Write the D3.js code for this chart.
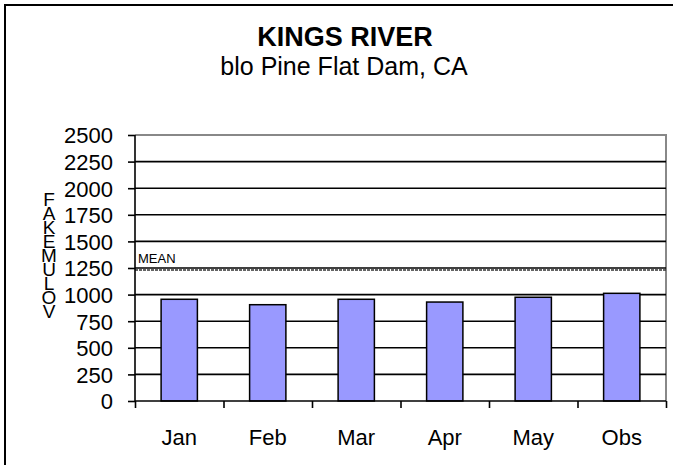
<!DOCTYPE html>
<html>
<head>
<meta charset="utf-8">
<script src="https://cdn.jsdelivr.net/npm/d3@7"></script>
<style>
html,body{margin:0;padding:0;background:#fff;}
svg{display:block;}
text{font-family:"Liberation Sans",Arial,sans-serif;fill:#000;}
</style>
</head>
<body>
<svg id="chart" width="673" height="465"></svg>
<script>
const categories = ["Jan","Feb","Mar","Apr","May","Obs"];
const values = [956, 905, 956, 930, 975, 1012];
const meanValue = 1231;
const yTicks = [0,250,500,750,1000,1250,1500,1750,2000,2250,2500];
const titleText = "KINGS RIVER";
const subtitleText = "blo Pine Flat Dam, CA";
const yAxisLetters = ["F","A","K","E","M","U","L","O","V"];

const svg = d3.select("#chart");
const plot = {left:135, right:666, top:135, bottom:401};

// outer border (extends past the image on right/bottom)
svg.append("rect").attr("x",5).attr("y",5).attr("width",700).attr("height",500)
  .attr("fill","none").attr("stroke","#000").attr("stroke-width",2);

const x = d3.scaleBand().domain(categories).range([plot.left, plot.right]).paddingInner(0.59).paddingOuter(0.295);
const xBound = d3.scaleLinear().domain([0, categories.length]).range([plot.left, plot.right]);
const y = d3.scaleLinear().domain([0,2500]).range([plot.bottom, plot.top]);

// plot border top/right (gray)
svg.append("path").attr("d",`M${plot.left},${plot.top}H${plot.right}V${plot.bottom}`)
  .attr("fill","none").attr("stroke","#888").attr("stroke-width",2);

// gridlines
svg.append("g").selectAll("line").data(yTicks.filter(t=>t>0 && t<2500)).join("line")
  .attr("x1",plot.left).attr("x2",plot.right)
  .attr("y1",d=>y(d)).attr("y2",d=>y(d))
  .attr("stroke","#000").attr("stroke-width",1.6);

// mean line
svg.append("line").attr("x1",plot.left).attr("x2",plot.right)
  .attr("y1",y(meanValue)).attr("y2",y(meanValue))
  .attr("stroke","#333").attr("stroke-width",1.5).attr("stroke-dasharray","3,1");
svg.append("text").attr("x",plot.left+3).attr("y",y(meanValue)-7)
  .attr("font-size",13).text("MEAN");

// bars
svg.append("g").selectAll("rect").data(values).join("rect")
  .attr("x",(d,i)=>x(categories[i])).attr("width",x.bandwidth())
  .attr("y",d=>y(d)).attr("height",d=>y(0)-y(d))
  .attr("fill","#9999FF").attr("stroke","#000").attr("stroke-width",1.5);

// y axis
const yAxis = d3.axisLeft(y).tickValues(yTicks).tickSize(7).tickPadding(15).tickFormat(d3.format("d"));
const gy = svg.append("g").attr("transform",`translate(${plot.left},0)`).call(yAxis);
gy.select(".domain").attr("stroke","#000").attr("stroke-width",1.6).attr("d",`M-0,${plot.top}V${plot.bottom}`);
gy.selectAll(".tick line").attr("stroke","#000").attr("stroke-width",1.6);
gy.selectAll(".tick text").attr("font-size",22).attr("fill","#000").attr("font-family",null).attr("dy","0.36em");

// x axis
const xAxis = d3.axisBottom(xBound).tickValues(d3.range(0, categories.length+1)).tickSize(7).tickFormat("");
const gx = svg.append("g").attr("transform",`translate(0,${plot.bottom})`).call(xAxis);
gx.select(".domain").attr("stroke","#000").attr("stroke-width",1.6).attr("d",`M${plot.left},0H${plot.right}`);
gx.selectAll(".tick line").attr("stroke","#000").attr("stroke-width",1.6);
svg.append("g").selectAll("text").data(categories).join("text")
  .attr("x",d=>x(d)+x.bandwidth()/2).attr("y",445)
  .attr("text-anchor","middle").attr("font-size",22).text(d=>d);

// titles
svg.append("text").attr("x",345).attr("y",46).attr("text-anchor","middle")
  .attr("font-size",27).attr("font-weight","bold").text(titleText);
svg.append("text").attr("x",344).attr("y",75).attr("text-anchor","middle")
  .attr("font-size",25).text(subtitleText);

// vertical stacked y-axis title
svg.append("g").selectAll("text").data(yAxisLetters).join("text")
  .attr("x",49).attr("y",(d,i)=>206+i*14).attr("text-anchor","middle")
  .attr("font-size",19).text(d=>d);
</script>
</body>
</html>
